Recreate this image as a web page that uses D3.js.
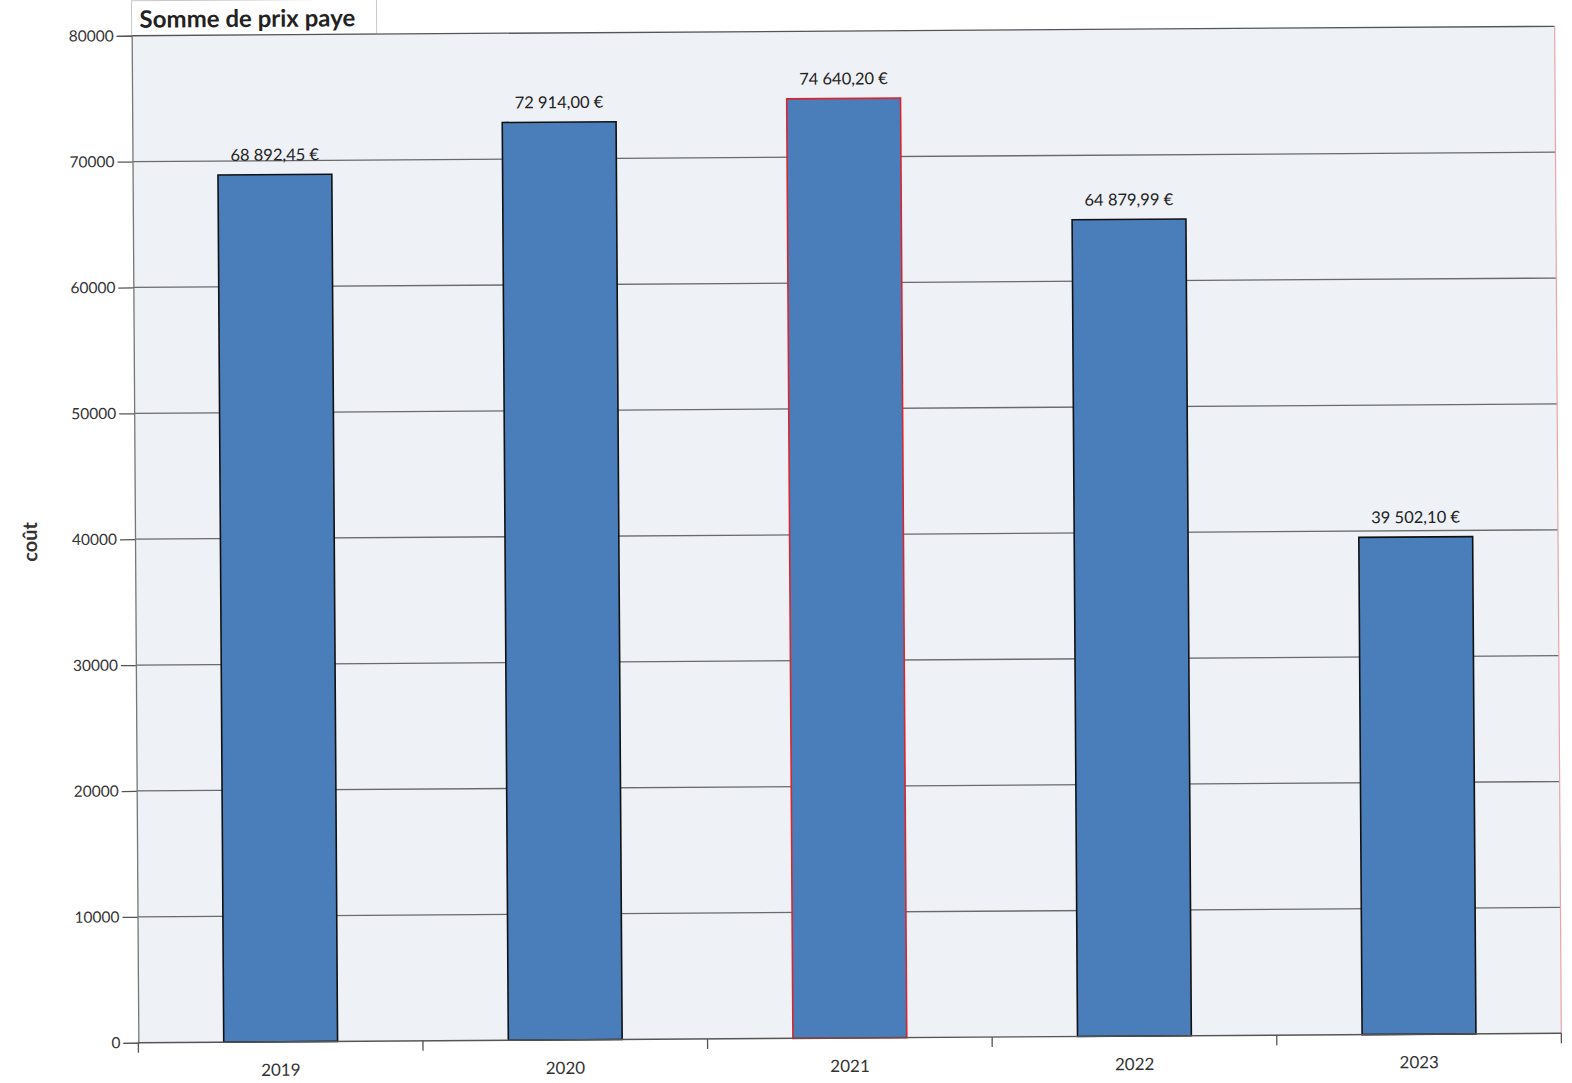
<!DOCTYPE html>
<html>
<head>
<meta charset="utf-8">
<script src="https://cdn.jsdelivr.net/npm/d3@7"></script>
<style>
  html, body { margin: 0; padding: 0; background: #ffffff; }
  svg { display: block; font-family: Lato, "Open Sans", sans-serif; }
</style>
</head>
<body>
<svg id="chart" width="1572" height="1083"></svg>
<script>
const years  = ["2019", "2020", "2021", "2022", "2023"];
const totals = [68892.45, 72914.00, 74640.20, 64879.99, 39502.10];
const labels = ["68 892,45 €", "72 914,00 €", "74 640,20 €", "64 879,99 €", "39 502,10 €"];
const yTicks = [0, 10000, 20000, 30000, 40000, 50000, 60000, 70000, 80000];
const highlightYear = "2021";

const data = years.map((y, i) => ({ year: y, value: totals[i], label: labels[i] }));

const svg = d3.select("#chart");
const M = { top: 31, left: 135 };
const W = 1423, H = 1007;

// the scan is tilted a little, so tilt the whole drawing too
const root = svg.append("g")
  .attr("transform", `rotate(-0.38, ${M.left + W / 2}, ${M.top + H / 2})`);
const g = root.append("g").attr("transform", `translate(${M.left},${M.top})`);

const x = d3.scaleBand().domain(years).range([0, W]).paddingInner(0.6).paddingOuter(0.3);
const y = d3.scaleLinear().domain([0, 80000]).range([H, 0]);

// title box
g.append("rect")
  .attr("x", 0).attr("y", -M.top - 4)
  .attr("width", 245).attr("height", M.top + 4)
  .attr("fill", "#ffffff").attr("stroke", "#c8c8c8");
g.append("text")
  .attr("x", 8).attr("y", -8)
  .attr("font-size", 24).attr("font-weight", "bold").attr("fill", "#222")
  .text("Somme de prix paye");

// plot background
g.append("rect")
  .attr("width", W).attr("height", H)
  .attr("fill", "#eef1f6");

// gridlines
g.append("g").selectAll("line")
  .data(yTicks.filter(d => d > 0))
  .join("line")
  .attr("x1", 0).attr("x2", W)
  .attr("y1", d => y(d)).attr("y2", d => y(d))
  .attr("stroke", d => d === 80000 ? "#555" : "#6a6a6a")
  .attr("stroke-width", 1.3);

// right border (faint red in the scan)
g.append("line")
  .attr("x1", W).attr("x2", W).attr("y1", 0).attr("y2", H)
  .attr("stroke", "#e3a7a7").attr("stroke-width", 1.2);

// bars
g.append("g").selectAll("rect")
  .data(data)
  .join("rect")
  .attr("x", d => x(d.year))
  .attr("y", d => y(d.value))
  .attr("width", x.bandwidth())
  .attr("height", d => H - y(d.value))
  .attr("fill", "#4a7ebb")
  .attr("stroke", d => d.year === highlightYear ? "#d9262e" : "#111")
  .attr("stroke-width", 1.6);

// value labels
g.append("g").selectAll("text")
  .data(data)
  .join("text")
  .attr("x", d => x(d.year) + x.bandwidth() / 2)
  .attr("y", d => y(d.value) - 14)
  .attr("text-anchor", "middle")
  .attr("font-size", 16.5).attr("fill", "#222")
  .text(d => d.label);

// y axis
const yAxis = g.append("g")
  .call(d3.axisLeft(y).tickValues(yTicks).tickSize(15).tickPadding(3).tickFormat(d3.format("d")));
yAxis.select(".domain").attr("stroke", "#777").attr("stroke-width", 1.3);
yAxis.selectAll(".tick line").attr("stroke", "#555").attr("stroke-width", 1.3);
yAxis.selectAll("text").attr("font-size", 15.5).attr("fill", "#333")
  .attr("font-family", "Lato, 'Open Sans', sans-serif");

// x axis: category labels, ticks at band boundaries
const xAxis = g.append("g").attr("transform", `translate(0,${H})`);
xAxis.append("line")
  .attr("x1", 0).attr("x2", W)
  .attr("stroke", "#555").attr("stroke-width", 1.4);
const edges = d3.range(years.length + 1).map(i => i * (W / years.length));
xAxis.selectAll("line.tk")
  .data(edges)
  .join("line").attr("class", "tk")
  .attr("x1", d => d).attr("x2", d => d)
  .attr("y1", 0).attr("y2", 10)
  .attr("stroke", "#555").attr("stroke-width", 1.3);
xAxis.selectAll("text")
  .data(years)
  .join("text")
  .attr("x", d => x(d) + x.bandwidth() / 2)
  .attr("y", 34)
  .attr("text-anchor", "middle")
  .attr("font-size", 17).attr("fill", "#333")
  .text(d => d);

// y axis title
root.append("text")
  .attr("transform", `translate(37,${M.top + H / 2 + 2}) rotate(-90)`)
  .attr("text-anchor", "middle")
  .attr("font-size", 20).attr("font-weight", "bold").attr("fill", "#333")
  .text("coût");
</script>
</body>
</html>
